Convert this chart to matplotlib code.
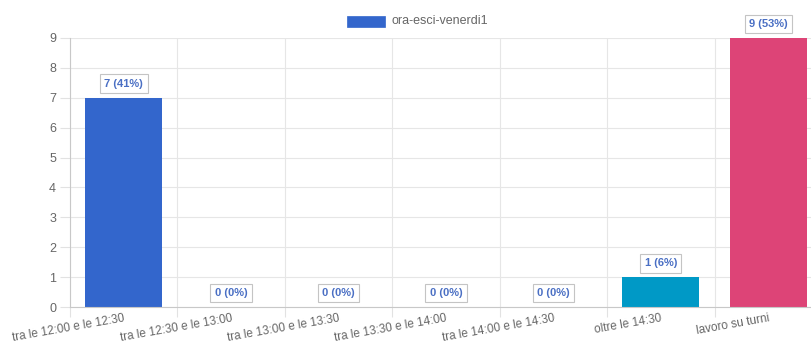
import matplotlib
matplotlib.use("Agg")
import matplotlib.pyplot as plt
from matplotlib.patches import Rectangle

categories = ["tra le 12:00 e le 12:30", "tra le 12:30 e le 13:00", "tra le 13:00 e le 13:30",
              "tra le 13:30 e le 14:00", "tra le 14:00 e le 14:30", "oltre le 14:30", "lavoro su turni"]
values = [7, 0, 0, 0, 0, 1, 9]
percents = [41, 0, 0, 0, 0, 6, 53]
colors = ["#3366cc", "#dc3912", "#ff9900", "#109618", "#990099", "#0099c6", "#dd4477"]
series_name = "ora-esci-venerdi1"

plt.rcParams['font.family'] = ['Liberation Sans', 'DejaVu Sans']

W, H = 811, 343
fig = plt.figure(figsize=(W / 100, H / 100), dpi=100)
left_px, right_px, top_px, bottom_px = 70, 822, 38, 307
ax = fig.add_axes([left_px / W, (H - bottom_px) / H, (right_px - left_px) / W, (bottom_px - top_px) / H])

x = list(range(len(categories)))
bars = ax.bar(x, values, width=0.716, color=colors, linewidth=0, zorder=2)

ax.set_xlim(-0.5, len(categories) - 0.5)
ax.set_ylim(0, 9)
ax.set_yticks(range(0, 10))
ax.tick_params(axis='y', length=7, width=0.8, color='#e2e2e2', labelsize=9, labelcolor='#666666', pad=3)

# gridlines at category boundaries
ax.set_xticks([i - 0.5 for i in range(len(categories) + 1)])
ax.set_xticklabels([])
ax.tick_params(axis='x', which='major', length=7, width=0.8, color='#e2e2e2')
ax.set_xticks(x, minor=True)
ax.set_xticklabels(categories, minor=True, rotation=10, ha='right', va='top',
                   rotation_mode='anchor', fontsize=8.5, color='#666666')
ax.tick_params(axis='x', which='minor', length=0, pad=4)

ax.grid(True, which='major', color='#e6e6e6', linewidth=0.8, zorder=0)
for s in ['top', 'right']:
    ax.spines[s].set_visible(False)
for s in ['left', 'bottom']:
    ax.spines[s].set_color('#c8c8c8')
    ax.spines[s].set_linewidth(0.8)

for xi, v, p in zip(x, values, percents):
    ax.annotate(f"{v} ({p}%)", xy=(xi, v), xytext=(0, 6.5), textcoords='offset points',
                ha='center', va='bottom', fontsize=8, fontweight='bold', color='#4a6fc4',
                bbox=dict(boxstyle='square,pad=0.4', fc='white', ec='#c4c4c4', lw=0.8),
                annotation_clip=False, zorder=5)

# legend
fig.patches.append(Rectangle((347 / W, (H - 27) / H), 38 / W, 11 / H, transform=fig.transFigure,
                             facecolor=colors[0], edgecolor='#3366cc', lw=0.5))
fig.text(391 / W, (H - 21.5) / H, series_name, ha='left', va='center', fontsize=9, color='#666666')

fig.savefig("out.png", dpi=100)
